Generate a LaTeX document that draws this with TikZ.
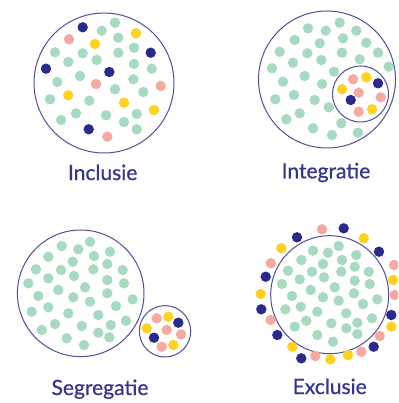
\documentclass[tikz,border=0pt]{standalone}
\usepackage{fontspec}
\setmainfont{Lato}
\newfontfamily\lblfont{Lato}[FakeBold=0.7]
\definecolor{mint}{HTML}{A6DBC1}
\definecolor{navydot}{HTML}{2A2A8C}
\definecolor{pinkdot}{HTML}{F4AAA1}
\definecolor{yellowdot}{HTML}{FFD21E}
\definecolor{ringline}{HTML}{524F98}
\definecolor{labelcol}{HTML}{35358F}
\begin{document}
\begin{tikzpicture}[x=1pt,y=-1pt,
  ring/.style={draw=ringline,line width=1pt,fill=white},
  lbl/.style={anchor=base,text=labelcol,font=\lblfont\fontsize{21}{24}\selectfont,inner sep=0pt}]
\useasboundingbox (0,0) rectangle (398,403);
\clip (0,0) rectangle (398,403);
\fill[white] (0,0) rectangle (398,403);
\def\dr{5.2}
% ---------- Inclusie ----------
\draw[ring] (104,83) circle (70);
\foreach \x/\y in {115/22.7,101.7/30.7,118.3/37.7,55/52.3,82.7/53.3,118.3/52.7,134/47.7,68.3/62,96.7/60,134/64,151.7/68.7,80/76,57.3/82,133.3/79.3,115/89.3,143.3/92,50/99.3,89.3/100.7,76/113.3,106/115.3,136.7/114,61/120,124/122,136.7/129.3}
  \fill[mint] (\x,\y) circle (\dr);
\foreach \x/\y in {82.7/27.3,150.7/52.7,46/68.7,109.3/72,88.7/129.3}
  \fill[navydot] (\x,\y) circle (\dr);
\foreach \x/\y in {69/39.3,96/84,160.7/86,107.3/136.7}
  \fill[pinkdot] (\x,\y) circle (\dr);
\foreach \x/\y in {136/33.3,95/44,68.3/95.3,124/102.7,154/110}
  \fill[yellowdot] (\x,\y) circle (\dr);
\node[lbl] (inclusie) at (102.7,180) {Inclusie};
% ---------- Integratie ----------
\draw[ring] (327,79.5) circle (68.5);
\foreach \x/\y in {339.7/22.7,308/28.3,325.7/30.7,356.3/30.7,294.7/40,319.7/43.3,343/38.3,366.3/42.7,279.7/51.7,307.3/53.3,342/52.7,321.3/60,359.7/59.3,378/52.7,272/68.3,293/62.7,388.7/66.7,304.7/76,334/71.7,283/81.7,322/84,275.3/99.3,294/95,314.7/100,299.7/113.3,328.7/107.3,286.3/119.3,341.3/123.3,313/128.3,332/135,358/132.7}
  \fill[mint] (\x,\y) circle (\dr);
\begin{scope}[shift={(360.5,94)}]
  \draw[ring] (0,0) circle (28);
  \foreach \x/\y in {-7.5/-14.7,-1.8/-1.3,20.2/3.3,-1.8/17.7}
    \fill[pinkdot] (\x,\y) circle (\dr);
  \foreach \x/\y in {5.8/-16.7,-18.5/-4.7,11.5/15.3}
    \fill[yellowdot] (\x,\y) circle (\dr);
  \foreach \x/\y in {17.5/-10.7,-9.8/6}
    \fill[navydot] (\x,\y) circle (\dr);
\end{scope}
\node[lbl] (integratie) at (326,178.3) {Integratie};
% ---------- Segregatie ----------
\draw[ring] (80.7,293.3) circle (63.3);
\foreach \x/\y in {90/241.7,61.7/246,78.3/249.3,110/251.7,48.3/256.7,94/256,72.7/261.7,107.3/264,36/269.3,61/270,93.3/269.3,122.7/270,74/276,48.3/278.3,107.3/280,28.3/283.3,124/283.3,85/287.3,58.3/290,107.3/293.3,38.3/296,73.3/297.3,132.7/299.3,90/301.7,116/306,48.3/307.3,31.7/311.7,68.3/313.3,98.3/315,126/320.7,55/324,81.7/326,110.7/325,41.7/330,98.3/332.7,66.7/338.3,109.3/337.3,84/345}
  \fill[mint] (\x,\y) circle (\dr);
\begin{scope}[shift={(165,331.3)}]
  \draw[ring] (0,0) circle (25.7);
  \foreach \x/\y in {-8.3/-13,1.7/-1.3,16/3,-3.3/15.4}
    \fill[pinkdot] (\x,\y) circle (\dr);
  \foreach \x/\y in {3.3/-14.6,-18.3/-3,8.3/13.7}
    \fill[yellowdot] (\x,\y) circle (\dr);
  \foreach \x/\y in {13.3/-8.6,-11/6.4}
    \fill[navydot] (\x,\y) circle (\dr);
\end{scope}
\node[lbl] (segregatie) at (100,395) {Segregatie};
% ---------- Exclusie ----------
\draw[ring] (329.7,294.7) circle (59);
\foreach \x/\y in {338.7/246,313/250.7,328/252.7,356.3/255,301.3/260,342/260,323/264,288/270.7,312/271.7,341.3/271.7,354.7/266.7,368.7/271.7,299.7/279.3,324/277.3,354.7/280.7,282/284,369.7/284,334.7/287.3,310.7/290,292/296,354/293.3,323/297.3,377.3/299.3,338.7/300.7,300.7/306.7,363/304,285.3/309.3,317.3/311.7,346.3/313.3,372/318.3,306.3/320.7,331.3/323.3,357.3/322.7,294.7/326.7,346.3/328.3,317.3/335,357.3/334,333/341.7}
  \fill[mint] (\x,\y) circle (\dr);
\foreach \x/\y in {322/229.3,270.7/263.3,394/265,394.7/295,270.7/320,379.7/336,315.3/356,361.3/351.7}
  \fill[pinkdot] (\x,\y) circle (\dr);
\foreach \x/\y in {343.7/228.3,297/237.3,379/251.7,265.7/276.7,261.3/309.3,391.3/315,277.3/335,373.7/346.7,301.3/358.3}
  \fill[navydot] (\x,\y) circle (\dr);
\foreach \x/\y in {363.7/238.3,281.3/248.3,393/280,260.7/294,391.3/326.7,292.3/346.7,330.3/359.3,348/355}
  \fill[yellowdot] (\x,\y) circle (\dr);
\node[lbl] (exclusie) at (329.7,394) {Exclusie};
\end{tikzpicture}
\end{document}
